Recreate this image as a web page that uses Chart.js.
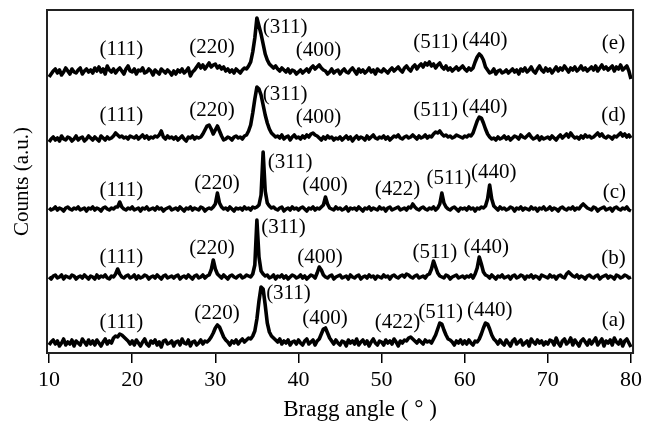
<!DOCTYPE html>
<html>
<head>
<meta charset="utf-8">
<title>XRD patterns</title>
<script src="https://cdn.jsdelivr.net/npm/chart.js@4.4.1/dist/chart.umd.min.js"></script>
<style>
  html, body { margin: 0; padding: 0; background: #fff; }
  #wrap { width: 646px; height: 421px; }
</style>
</head>
<body>
<div id="wrap"><canvas id="xrd" width="646" height="421"></canvas></div>
<script>
// scan grid: 10..80 deg in 0.25 deg steps (281 points)
const angleStart = 10;
const angleStep = 0.25;
const xTicks = [10, 20, 30, 40, 50, 60, 70, 80];
const xTitle = 'Bragg angle ( ° )';
const yTitle = 'Counts (a.u.)';

// intensities (a.u.), one row = 5 deg
const countsA = [
  -2,1,3,-1,2,-3,0,4,-2,1,-1,3,-3,2,0,-2,4,1,-2,3,
  -1,2,-2,3,0,-3,1,4,-1,2,0,5,7,6,9,8,6,4,2,-1,
  2,-2,3,0,-3,1,4,-1,-3,2,0,3,-2,1,-4,2,3,-1,0,2,
  -3,1,2,-2,4,0,-1,3,-3,1,2,-2,0,3,-1,2,1,3,6,10,
  15,18,16,11,6,3,1,-2,2,0,3,-1,2,4,1,3,5,4,7,12,
  24,42,56,54,38,20,11,7,5,3,1,4,-1,2,0,3,-2,1,2,-1,
  3,0,-2,2,4,-1,1,3,-2,2,4,9,14,15,10,5,2,-1,3,0,
  -2,2,1,-3,3,0,2,-1,4,-2,1,3,-1,2,-3,1,4,0,-2,2,
  1,-2,3,0,2,-1,4,1,-3,2,0,3,2,5,6,4,2,0,3,1,
  -1,3,1,2,0,4,8,14,20,19,13,8,4,3,1,-2,2,0,3,-1,
  2,-1,3,0,-2,2,1,4,9,15,20,19,14,8,4,2,-1,3,0,-2,
  3,0,-3,2,4,-1,1,3,-2,0,2,-3,4,1,-1,3,0,2,-2,1,
  -1,3,2,-2,5,0,-3,2,4,-1,1,5,-2,3,0,-3,2,4,1,-2,
  3,-1,2,5,-2,1,4,-3,2,0,3,-2,5,1,-1,3,-3,2,4,0,
  -4
];
const countsB = [
  0,-2,1,2,-1,0,2,-2,1,0,-1,2,1,-2,0,1,-1,2,0,-2,
  1,0,-2,2,-1,1,0,2,-1,-2,1,0,3,8,3,0,-1,1,2,-1,
  0,2,-2,1,-1,0,2,1,-2,0,1,-1,2,0,-2,1,2,-1,0,1,
  -1,1,2,-2,0,1,-1,2,0,-2,1,2,-1,0,2,-1,1,2,7,17,
  8,3,1,-1,2,0,-2,1,2,0,-1,1,2,-1,0,2,1,0,3,12,
  57,20,6,3,1,2,-1,0,2,-2,1,0,2,-1,1,-2,0,2,1,-1,
  0,2,-1,1,-2,0,2,1,-1,4,10,7,2,0,-1,1,2,-2,0,1,
  2,-1,0,1,-2,2,0,-1,1,2,-2,0,1,-1,2,0,1,-2,1,0,
  -1,2,0,1,-2,1,2,0,-1,1,2,0,3,2,0,-1,1,2,-1,0,
  1,-1,2,3,8,16,10,4,1,0,-1,2,1,-2,0,1,2,-1,0,1,
  -1,1,0,2,-1,3,9,20,13,5,2,1,-1,2,0,-2,1,0,2,-1,
  0,1,-2,1,2,-1,0,2,1,-2,1,0,2,-1,1,0,-2,2,1,0,
  -1,2,0,1,-2,1,2,0,-1,3,5,3,1,0,2,-1,1,0,-2,1,
  2,0,-1,1,2,-2,0,1,2,-1,1,0,-2,2,1,-1,0,2,1,-1,
  0
];
const countsC = [
  1,-1,0,2,-1,1,0,-2,1,2,0,-1,1,0,2,-1,0,1,-2,1,
  0,2,-1,1,0,-2,1,2,0,-1,1,0,2,2,7,2,0,-1,1,0,
  2,-1,0,1,-2,1,0,2,-1,0,1,-1,2,0,1,-2,0,1,2,-1,
  0,1,-1,2,0,-2,1,0,2,-1,1,0,-1,2,1,-2,0,1,0,2,
  5,16,6,2,0,1,-1,2,0,-2,1,0,1,-1,2,0,1,-1,2,1,
  2,4,14,57,18,6,3,1,2,0,-1,1,2,-2,0,1,-1,2,0,1,
  -1,1,2,0,-2,1,0,2,-1,1,0,2,4,12,5,1,0,-1,2,0,
  1,-1,0,2,-2,1,0,1,-1,2,0,-2,1,0,2,-1,1,0,-1,2,
  0,1,-2,1,2,-1,0,1,2,-1,0,1,-1,2,1,5,2,0,-1,1,
  2,0,-1,1,0,2,-1,1,5,16,6,2,0,-1,1,2,0,-2,1,0,
  1,-1,2,0,1,-2,1,0,2,1,3,10,24,10,3,1,-1,2,0,1,
  -1,0,2,1,-2,1,0,2,-1,1,0,-1,2,0,1,-2,1,0,2,-1,
  0,2,-1,1,0,-2,1,2,0,-1,1,0,2,-1,1,0,3,5,3,1,
  0,-1,2,1,-2,0,1,2,-1,0,1,-2,1,2,0,-1,1,0,2,-1,
  -2
];
const countsD = [
  -3,0,2,-1,1,-2,3,0,-1,2,1,-2,0,3,-1,1,2,-2,0,3,
  1,-1,2,0,-2,3,1,-1,2,0,1,3,6,4,2,3,1,2,0,3,
  2,1,3,0,2,4,1,3,0,2,1,3,2,4,8,2,0,3,1,2,
  0,2,-1,1,3,0,-2,2,1,3,0,2,1,2,5,9,13,14,10,5,
  9,13,8,3,-1,0,2,1,-1,2,3,1,2,0,3,4,8,14,26,40,
  52,50,44,34,24,16,10,6,4,2,3,1,4,0,2,3,-1,2,4,1,
  2,0,3,1,4,2,5,6,4,3,1,-1,2,0,3,1,2,-1,1,0,
  2,-1,1,3,0,2,-2,1,3,0,2,1,-1,3,0,2,4,1,0,2,
  1,3,0,2,-1,1,3,2,4,1,0,2,3,1,2,4,2,0,3,1,
  2,4,1,3,2,5,7,6,8,5,3,4,2,3,1,2,4,3,2,1,
  3,2,4,3,6,12,18,22,21,16,10,5,2,0,1,-1,2,0,1,3,
  0,2,-1,1,3,2,0,4,2,1,3,5,2,0,1,3,-1,2,0,1,
  2,0,3,1,-1,2,4,1,3,5,2,6,3,1,2,0,3,1,4,2,
  3,1,2,4,6,3,5,2,1,3,2,0,3,2,4,6,3,5,2,4,
  1
];
const countsE = [
  -5,-2,1,3,-1,2,-3,0,4,1,-2,3,0,-1,2,4,-2,1,3,0,
  2,-1,4,1,5,0,3,-2,6,2,0,3,-1,2,4,1,-2,3,6,1,
  0,3,-2,2,1,4,-1,0,3,1,-3,2,0,-2,3,1,-1,2,0,-3,
  1,-2,2,0,3,-1,1,4,-4,0,2,5,8,4,7,3,6,9,5,7,
  8,4,6,3,5,1,3,0,2,-1,3,1,-1,2,4,3,6,10,20,34,
  54,46,38,28,18,12,8,6,4,6,3,1,4,2,0,3,-1,2,1,-2,
  0,2,-1,1,3,0,4,6,3,5,7,4,2,1,-2,0,3,-1,1,2,
  -2,1,3,0,-1,2,4,1,-2,3,0,2,-1,1,4,0,2,-2,3,1,
  0,3,1,-1,2,4,1,3,5,2,0,4,6,3,1,5,7,3,6,8,
  5,9,7,10,6,8,4,7,9,5,3,6,2,4,1,3,5,2,4,6,
  3,1,4,2,4,10,15,18,16,12,5,2,-1,0,3,-2,1,2,-1,0,
  2,-1,1,3,0,2,-2,3,1,4,0,2,5,1,-1,3,6,2,0,4,
  1,3,-1,2,5,1,4,2,6,3,0,4,2,5,1,3,6,2,4,1,
  3,5,2,6,1,4,7,3,5,2,4,6,1,5,3,7,2,4,6,1,
  -7
];
// vertical stacking of the five patterns (a)..(e)
const seriesCounts = [countsA, countsB, countsC, countsD, countsE];
const seriesOffsets = [10, 76, 144, 214, 281];

// peak / curve labels: text, angle (deg), level (a.u.)
const labelTexts = [
  '(111)','(220)','(311)','(400)','(422)','(511)','(440)','(a)',
  '(111)','(220)','(311)','(400)','(511)','(440)','(b)',
  '(111)','(220)','(311)','(400)','(422)','(511)','(440)','(c)',
  '(111)','(220)','(311)','(400)','(511)','(440)','(d)',
  '(111)','(220)','(311)','(400)','(511)','(440)','(e)'
];
const labelAngles = [
  18.7, 30.2, 38.8, 43.2, 51.9, 57.1, 63.0, 77.9,
  18.7, 29.6, 38.2, 42.6, 56.4, 62.6, 77.9,
  18.7, 30.2, 39.0, 43.2, 51.9, 58.1, 63.5, 78.0,
  18.7, 29.6, 38.4, 42.4, 56.5, 62.4, 77.9,
  18.7, 29.6, 38.4, 42.4, 56.5, 62.4, 77.9
];
const labelLevels = [
  31, 40, 60, 35, 31, 41, 43, 33,
  96, 105, 126, 96, 101, 106, 95,
  163, 170, 191, 168, 164, 175, 181, 161,
  238, 243, 259, 236, 243, 246, 238,
  304, 306, 326, 303, 311, 313, 310
];

const serif = '"Liberation Serif", "Times New Roman", serif';

const datasets = seriesCounts.map((counts, s) => ({
  data: counts.map((v, i) => ({ x: angleStart + i * angleStep, y: v + seriesOffsets[s] })),
  borderColor: '#000',
  borderWidth: 3.6,
  borderJoinStyle: 'round',
  pointRadius: 0,
  tension: 0,
  fill: false
}));

// frame round the plot area, peak labels and x title
const framePlugin = {
  id: 'frame',
  afterDraw(chart) {
    const { ctx, chartArea: a, scales } = chart;
    ctx.save();
    ctx.strokeStyle = '#222';
    ctx.lineWidth = 2;
    ctx.strokeRect(a.left, a.top, a.right - a.left, a.bottom - a.top);
    ctx.fillStyle = '#000';
    ctx.font = '21px ' + serif;
    ctx.textAlign = 'center';
    ctx.textBaseline = 'middle';
    labelTexts.forEach((t, i) => {
      ctx.fillText(t, scales.x.getPixelForValue(labelAngles[i]), scales.y.getPixelForValue(labelLevels[i]));
    });
    ctx.font = '23px ' + serif;
    ctx.fillText(xTitle, (a.left + a.right) / 2 + 20, a.bottom + 57);
    ctx.restore();
  }
};

new Chart(document.getElementById('xrd'), {
  type: 'line',
  data: { datasets },
  options: {
    responsive: false,
    animation: false,
    layout: { padding: { left: 0, right: 9, top: 10, bottom: 0 } },
    plugins: { legend: { display: false }, tooltip: { enabled: false } },
    scales: {
      x: {
        type: 'linear',
        min: 9.75,
        max: 80.25,
        afterBuildTicks(scale) { scale.ticks = xTicks.map(v => ({ value: v })); },
        afterFit(scale) { scale.height = 68; },
        border: { display: false },
        grid: { drawOnChartArea: false, drawTicks: true, tickLength: 10, color: '#000', lineWidth: 1.5 },
        ticks: { color: '#000', font: { family: serif, size: 22 }, padding: 4, maxRotation: 0 },
        title: { display: false }
      },
      y: {
        min: 0,
        max: 343,
        afterFit(scale) { scale.width = 47; },
        border: { display: false },
        grid: { display: false },
        ticks: { display: false },
        title: { display: true, text: yTitle, color: '#000', font: { family: serif, size: 21 }, padding: { top: 10, bottom: 0 } }
      }
    }
  },
  plugins: [framePlugin]
});
</script>
</body>
</html>
